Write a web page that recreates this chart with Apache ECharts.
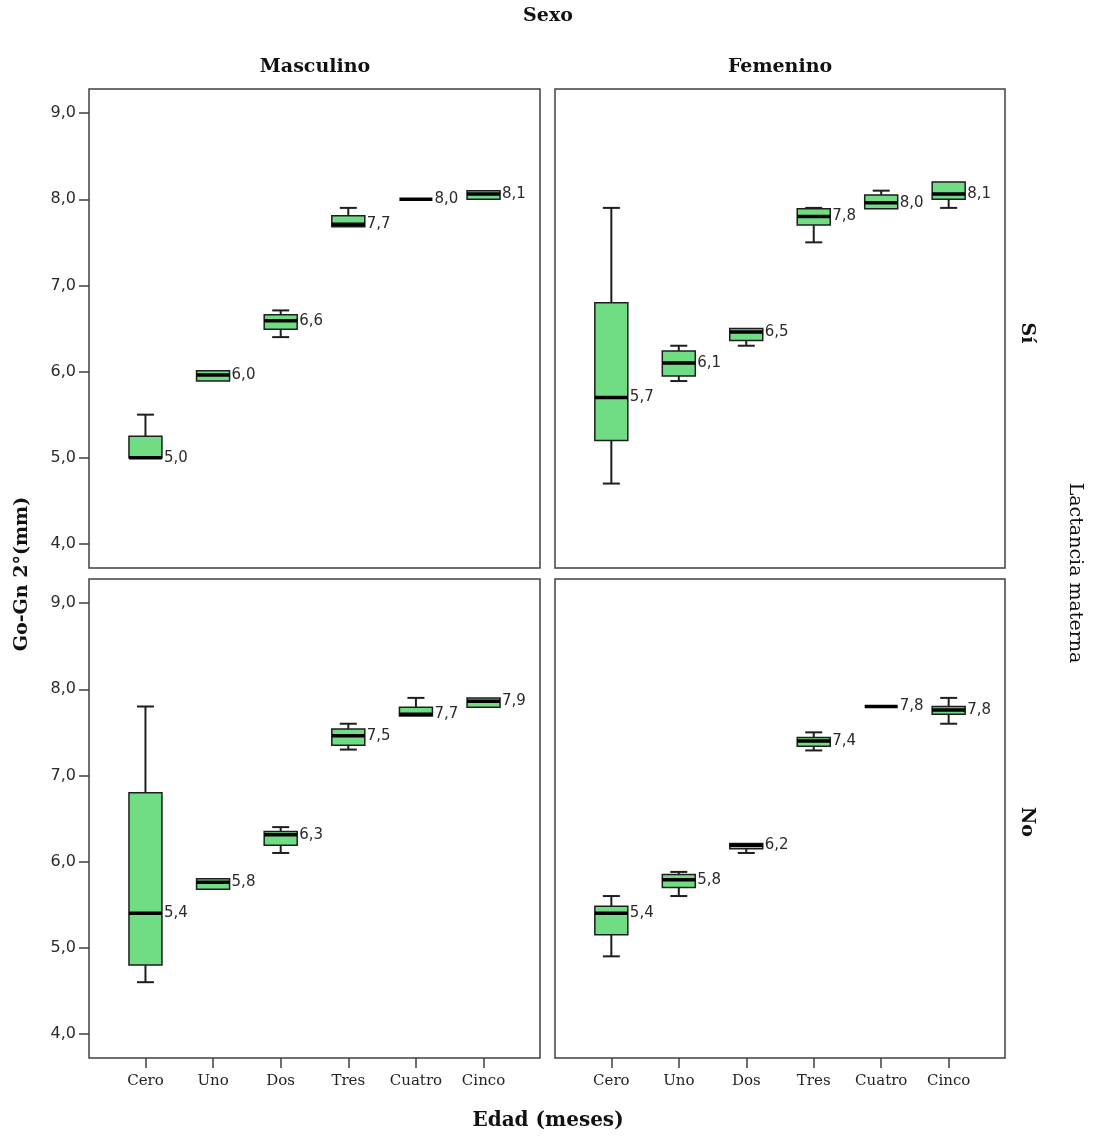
<!DOCTYPE html>
<html>
<head>
<meta charset="utf-8">
<title>Go-Gn 2° por edad, sexo y lactancia</title>
<script src="https://cdn.jsdelivr.net/npm/echarts@6/dist/echarts.min.js"></script>
<style>
  html, body { margin: 0; padding: 0; background: #fff; }
  #containerBox { width: 1096px; height: 1139px; }
</style>
</head>
<body>
<div id="containerBox"></div>
<script>
/// datos (min, q1, mediana, q3, max) por edad
var $edades = ['Cero', 'Uno', 'Dos', 'Tres', 'Cuatro', 'Cinco'];
var $ticksY = [4, 5, 6, 7, 8, 9];

var $masculinoSi = [
    [5.0, 5.0, 5.0, 5.25, 5.5],
    [5.89, 5.89, 5.96, 6.01, 6.01],
    [6.4, 6.49, 6.59, 6.66, 6.71],
    [7.68, 7.68, 7.71, 7.81, 7.9],
    [8.0, 8.0, 8.0, 8.0, 8.0],
    [8.0, 8.0, 8.06, 8.1, 8.1]
];
var $femeninoSi = [
    [4.7, 5.2, 5.7, 6.8, 7.9],
    [5.89, 5.95, 6.1, 6.24, 6.3],
    [6.3, 6.36, 6.46, 6.5, 6.5],
    [7.5, 7.7, 7.8, 7.89, 7.9],
    [7.89, 7.89, 7.96, 8.05, 8.1],
    [7.9, 8.0, 8.06, 8.2, 8.2]
];
var $masculinoNo = [
    [4.6, 4.8, 5.4, 6.8, 7.8],
    [5.68, 5.68, 5.76, 5.8, 5.8],
    [6.1, 6.19, 6.31, 6.35, 6.4],
    [7.3, 7.35, 7.46, 7.54, 7.6],
    [7.69, 7.69, 7.71, 7.79, 7.9],
    [7.79, 7.79, 7.86, 7.9, 7.9]
];
var $femeninoNo = [
    [4.9, 5.15, 5.4, 5.48, 5.6],
    [5.6, 5.7, 5.79, 5.85, 5.88],
    [6.1, 6.15, 6.19, 6.21, 6.21],
    [7.29, 7.34, 7.4, 7.44, 7.5],
    [7.8, 7.8, 7.8, 7.8, 7.8],
    [7.6, 7.71, 7.76, 7.8, 7.9]
];

var $verde = '#70dc84';
var $lineColor = '#1e1e1e';
var $frameColor = '#404040';

// coma decimal como en el original
function coma(v) {
    return v.toFixed(1).replace('.', ',');
}

// filas [indice, min, q1, mediana, q3, max]
function filas(panel) {
    return panel.map(function (d, i) { return [i].concat(d); });
}

/* cada caja se dibuja con las coordenadas de los ejes (api.coord) */
function renderCaja(params, api) {
    var x = api.value(0);
    var lo = api.value(1), q1 = api.value(2), med = api.value(3), q3 = api.value(4), hi = api.value(5);
    var pLo = api.coord([x, lo]);
    var pQ1 = api.coord([x, q1]);
    var pMed = api.coord([x, med]);
    var pQ3 = api.coord([x, q3]);
    var pHi = api.coord([x, hi]);
    var cx = pMed[0];
    var bw = 16.5;   // media anchura de la caja
    var cw = 8.5;    // media anchura del bigote
    var whisker = { stroke: $lineColor, lineWidth: 2 };
    var kids = [];

    if (hi > q3) {
        kids.push({ type: 'line', shape: { x1: cx, y1: pHi[1], x2: cx, y2: pQ3[1] }, style: whisker });
        kids.push({ type: 'line', shape: { x1: cx - cw, y1: pHi[1], x2: cx + cw, y2: pHi[1] }, style: whisker });
    }
    if (lo < q1) {
        kids.push({ type: 'line', shape: { x1: cx, y1: pQ1[1], x2: cx, y2: pLo[1] }, style: whisker });
        kids.push({ type: 'line', shape: { x1: cx - cw, y1: pLo[1], x2: cx + cw, y2: pLo[1] }, style: whisker });
    }
    if (q3 > q1) {
        kids.push({
            type: 'rect',
            shape: { x: cx - bw, y: pQ3[1], width: bw * 2, height: pQ1[1] - pQ3[1] },
            style: { fill: $verde, stroke: $lineColor, lineWidth: 1.5 }
        });
    }
    // mediana
    kids.push({
        type: 'line',
        shape: { x1: cx - bw, y1: pMed[1], x2: cx + bw, y2: pMed[1] },
        style: { stroke: '#000', lineWidth: 3.5 }
    });
    kids.push({
        type: 'text',
        x: cx + bw + 2,
        y: pMed[1],
        style: {
            text: coma(med),
            fill: '#2b2b2b',
            fontFamily: 'DejaVu Sans',
            fontSize: 15,
            align: 'left',
            verticalAlign: 'middle'
        }
    });
    return { type: 'group', children: kids };
}

var $grids = [
    { left: 89, top: 89, width: 451, height: 479 },
    { left: 555, top: 89, width: 450, height: 479 },
    { left: 89, top: 579, width: 451, height: 479 },
    { left: 555, top: 579, width: 450, height: 479 }
];
var $paneles = [$masculinoSi, $femeninoSi, $masculinoNo, $femeninoNo];

var xAxes = [], yAxes = [], series = [];
$paneles.forEach(function (panel, k) {
    var abajo = k >= 2;
    var izquierda = k % 2 === 0;
    xAxes.push({
        type: 'value',
        gridIndex: k,
        position: 'bottom',
        min: -0.835,
        max: 5.835,
        axisLine: { show: false, onZero: false },
        splitLine: { show: false },
        axisTick: {
            show: abajo,
            customValues: [0, 1, 2, 3, 4, 5],
            length: 10,
            lineStyle: { color: $frameColor, width: 1.5 }
        },
        axisLabel: {
            show: abajo,
            customValues: [0, 1, 2, 3, 4, 5],
            margin: 16,
            formatter: function (v) { return $edades[Math.round(v)]; },
            fontFamily: 'DejaVu Serif',
            fontSize: 15,
            color: '#222'
        }
    });
    yAxes.push({
        type: 'value',
        gridIndex: k,
        position: 'left',
        min: 3.72,
        max: 9.28,
        axisLine: { show: false, onZero: false },
        splitLine: { show: false },
        axisTick: {
            show: izquierda,
            customValues: $ticksY,
            length: 10,
            lineStyle: { color: $frameColor, width: 1.5 }
        },
        axisLabel: {
            show: izquierda,
            customValues: $ticksY,
            margin: 13,
            formatter: function (v) { return coma(v); },
            fontFamily: 'DejaVu Sans',
            fontSize: 16,
            color: '#2b2b2b'
        }
    });
    series.push({
        type: 'custom',
        xAxisIndex: k,
        yAxisIndex: k,
        renderItem: renderCaja,
        encode: { x: 0, y: [1, 2, 3, 4, 5] },
        data: filas(panel),
        clip: false,
        silent: true
    });
});

var serif = 'DejaVu Serif';
function texto(t, x, y, size, bold, rot) {
    return {
        type: 'text',
        x: x,
        y: y,
        rotation: rot || 0,
        silent: true,
        style: {
            text: t,
            fontFamily: serif,
            fontSize: size,
            fontWeight: bold ? 'bold' : 'normal',
            fill: '#111',
            align: 'center',
            verticalAlign: 'middle'
        }
    };
}

var chartOption = {
    animation: false,
    backgroundColor: '#fff',
    grid: $grids.map(function (g) {
        return Object.assign({
            show: true,
            borderColor: $frameColor,
            borderWidth: 1.5,
            backgroundColor: 'transparent',
            containLabel: false
        }, g);
    }),
    xAxis: xAxes,
    yAxis: yAxes,
    series: series,
    graphic: [
        texto('Sexo', 548, 16, 19, true),
        texto('Masculino', 315, 67, 19, true),
        texto('Femenino', 780, 67, 19, true),
        texto('Edad (meses)', 548, 1121, 20, true),
        texto('Go-Gn 2°(mm)', 22, 574, 19, true, Math.PI / 2),
        texto('Sí', 1027, 333, 19, true, -Math.PI / 2),
        texto('No', 1027, 822, 19, true, -Math.PI / 2),
        texto('Lactancia materna', 1075, 573, 19, false, -Math.PI / 2)
    ]
};

var boxChart = echarts.init(document.getElementById('containerBox'));
boxChart.setOption(chartOption);

window.addEventListener('resize', function () {
    setTimeout(function () { boxChart.resize(); }, 200);
});
</script>
</body>
</html>
